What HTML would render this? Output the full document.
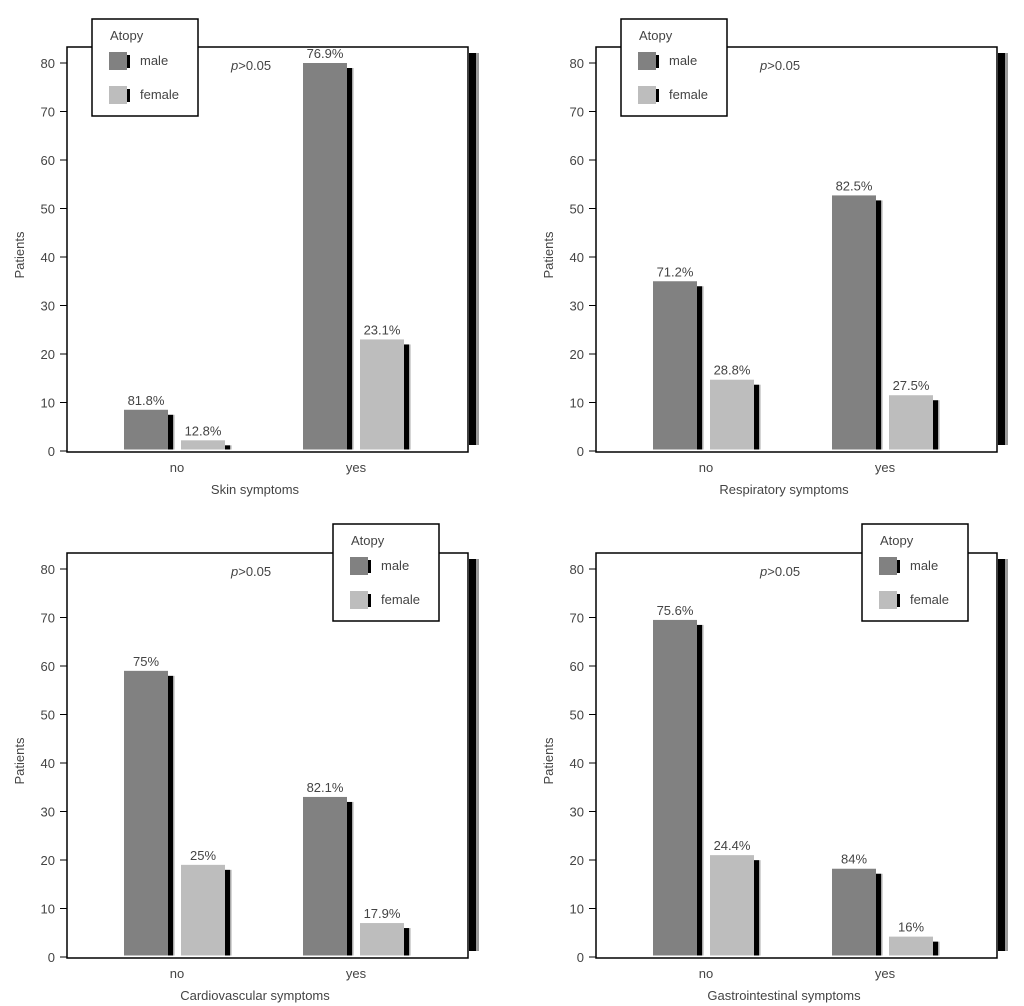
<!DOCTYPE html>
<html><head><meta charset="utf-8"><style>
html,body{margin:0;padding:0;background:#fff;}
svg{display:block;font-family:"Liberation Sans",sans-serif;}
text{fill:#444;}
</style></head><body>
<svg id="chart" width="1024" height="1006" viewBox="0 0 1024 1006" xmlns="http://www.w3.org/2000/svg"></svg>
<script>
const panelTitles = ["Skin symptoms","Respiratory symptoms","Cardiovascular symptoms","Gastrointestinal symptoms"];
const categories = ["no","yes"];
const maleValues = [[8.5,80],[35,52.7],[59,33],[69.5,18.2]];
const femaleValues = [[2.2,23],[14.7,11.5],[19,7],[21,4.2]];
const maleLabels = [["81.8%","76.9%"],["71.2%","82.5%"],["75%","82.1%"],["75.6%","84%"]];
const femaleLabels = [["12.8%","23.1%"],["28.8%","27.5%"],["25%","17.9%"],["24.4%","16%"]];
const yTicks = [0,10,20,30,40,50,60,70,80];

const NS="http://www.w3.org/2000/svg";
const svg=document.getElementById('chart');
function mk(tag,attrs,parent,txt){const e=document.createElementNS(NS,tag);for(const k in attrs)e.setAttribute(k,attrs[k]);if(txt!==undefined)e.textContent=txt;(parent||svg).appendChild(e);return e;}

const offsets=[[0,0],[529,0],[0,506],[529,506]];
const legendX=[92,92,333,333];
offsets.forEach((o,p)=>{
  const ox=o[0], oy=o[1];
  const g=mk('g',{transform:`translate(${ox},${oy})`});
  
  
  const y=v=>451-v*(388/80);
  const groupX=[124,303];
  // shadow strip
  const s=mk('rect',{x:469,y:53,width:7,height:392,fill:'#000'},g);
  
  
  mk('rect',{x:476,y:53,width:3,height:392,fill:'#999'},g);
  // frame
  const f=mk('rect',{x:67,y:47,width:401,height:405,fill:'none',stroke:'#000','stroke-width':1.5},g);
  
  
  // ticks
  yTicks.forEach(t=>{
    mk('line',{x1:60,x2:67,y1:y(t),y2:y(t),stroke:'#000','stroke-width':1},g);
    const tl=mk('text',{x:55,y:y(t)+5,'text-anchor':'end','font-size':13},g,String(t));
    
    
  });
  const yt=mk('text',{x:0,y:0,transform:'translate(24,255) rotate(-90)','text-anchor':'middle','font-size':13},g,'Patients');
  
  
  // bars
  categories.forEach((c,i)=>{
    const bx=groupX[i];
    [[maleValues[p][i],'#818181',maleLabels[p][i],0,'male'],[femaleValues[p][i],'#bdbdbd',femaleLabels[p][i],57,'female']].forEach(b=>{
      const x=bx+b[3], top=y(b[0]), bot=449.5;
      mk('rect',{x:x+44,y:top+5,width:5,height:Math.max(0,bot-top-5),fill:'#000'},g);
      mk('rect',{x:x+49,y:top+5,width:1.5,height:Math.max(0,bot-top-5),fill:'#aaa'},g);
      const r=mk('rect',{x:x,y:top,width:44,height:bot-top,fill:b[1]},g);
      
      
      const l=mk('text',{x:x+22,y:top-5,'text-anchor':'middle','font-size':13},g,b[2]);
      
      
    });
    const cl=mk('text',{x:bx+53,y:472,'text-anchor':'middle','font-size':13},g,c);
    
    
  });
  const xt=mk('text',{x:255,y:494,'text-anchor':'middle','font-size':13},g,panelTitles[p]);
  
  
  const pv=mk('text',{x:231,y:70,'font-size':13},g);
  
  
  mk('tspan',{'font-style':'italic'},pv,'p');
  mk('tspan',{},pv,'>0.05');
  // legend
  const lx=legendX[p], ly=(p<2?19:18);
  const lg=mk('g',{transform:`translate(${lx},${ly})`},g);
  
  
  mk('rect',{x:0,y:0,width:106,height:97,fill:'#fff',stroke:'#000','stroke-width':1.5},lg);
  mk('text',{x:18,y:21,'font-size':13},lg,'Atopy');
  [['male','#818181',33],['female','#bdbdbd',67]].forEach(e=>{
    const sw=mk('rect',{x:17,y:e[2],width:18,height:18,fill:e[1]},lg);
    
    
    mk('rect',{x:35,y:e[2]+3,width:3,height:13,fill:'#000'},lg);
    const t=mk('text',{x:48,y:e[2]+13,'font-size':13},lg,e[0]);
    
    
  });
});
</script>
</body></html>
